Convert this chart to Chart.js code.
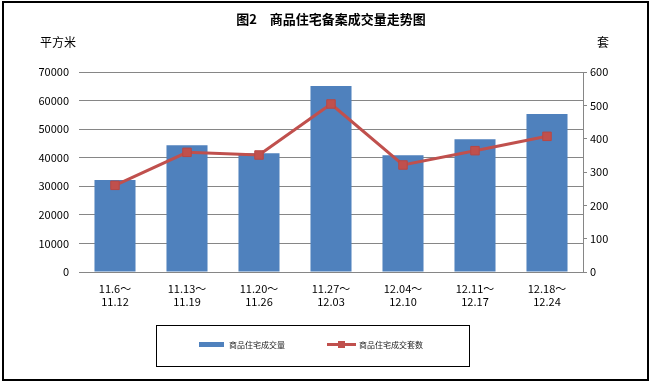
<!DOCTYPE html>
<html>
<head>
<meta charset="utf-8">
<script src="https://cdn.jsdelivr.net/npm/chart.js@4"></script>
<style>
  html, body { margin: 0; padding: 0; background: #fff; }
  canvas { display: block; }
</style>
</head>
<body>
<canvas id="chart" width="652" height="384"></canvas>
<script>
// week ranges
const weeks = [
  ['11.6～', '11.12'],
  ['11.13～', '11.19'],
  ['11.20～', '11.26'],
  ['11.27～', '12.03'],
  ['12.04～', '12.10'],
  ['12.11～', '12.17'],
  ['12.18～', '12.24']
];
// area sold (平方米)
const areaSold = [32200, 44400, 41600, 65100, 40900, 46500, 55300];
// units sold (套)
const unitsSold = [260, 359, 351, 504, 321, 364, 407];

const leftTicks = [0, 10000, 20000, 30000, 40000, 50000, 60000, 70000];
const rightTicks = [0, 100, 200, 300, 400, 500, 600];

const titleText = '图2　商品住宅备案成交量走势图';
const areaLabel = '商品住宅成交量';
const unitsLabel = '商品住宅成交套数';

const font = '"Noto Sans CJK SC", "DejaVu Sans", sans-serif';
const blue = '#4F81BD';
const red = '#C0504D';

// title, axis units, legend box and outer frame
const decorations = {
  id: 'decorations',
  afterDraw(chart) {
    const ctx = chart.ctx;
    ctx.save();
    ctx.fillStyle = '#000';
    ctx.font = 'bold 13px ' + font;
    ctx.textAlign = 'center';
    ctx.textBaseline = 'middle';
    ctx.fillText(titleText, 331, 19);

    ctx.font = '12px ' + font;
    ctx.textAlign = 'left';
    ctx.fillText('平方米', 40, 42);
    ctx.fillText('套', 597, 42);

    // legend
    ctx.strokeStyle = '#000';
    ctx.lineWidth = 1;
    ctx.strokeRect(156.5, 325.5, 313, 41);
    ctx.fillStyle = blue;
    ctx.fillRect(199, 342, 25, 5);
    ctx.strokeStyle = red;
    ctx.lineWidth = 3;
    ctx.beginPath();
    ctx.moveTo(327, 344.5);
    ctx.lineTo(356, 344.5);
    ctx.stroke();
    ctx.fillStyle = red;
    ctx.fillRect(338, 341, 7, 7);
    ctx.fillStyle = '#222';
    ctx.font = '8px ' + font;
    ctx.fillText(areaLabel, 229, 345);
    ctx.fillText(unitsLabel, 359, 345);

    // outer frame
    ctx.strokeStyle = '#000';
    ctx.lineWidth = 2;
    ctx.strokeRect(3, 2, 645, 378);
    ctx.restore();
  }
};

new Chart(document.getElementById('chart'), {
  type: 'bar',
  data: {
    labels: weeks,
    datasets: [
      {
        type: 'line',
        label: unitsLabel,
        data: unitsSold,
        yAxisID: 'y1',
        borderColor: red,
        backgroundColor: red,
        borderWidth: 3,
        pointStyle: 'rect',
        pointRadius: 6,
        pointBorderWidth: 1,
        pointBorderColor: '#B84744',
        tension: 0,
        order: 0
      },
      {
        label: areaLabel,
        data: areaSold,
        yAxisID: 'y',
        backgroundColor: blue,
        categoryPercentage: 1,
        barPercentage: 0.57,
        order: 1
      }
    ]
  },
  options: {
    responsive: false,
    devicePixelRatio: 1,
    animation: false,
    layout: { padding: { top: 72, left: 0, right: 0, bottom: 0 } },
    plugins: {
      legend: { display: false },
      tooltip: { enabled: false }
    },
    scales: {
      x: {
        afterFit: (s) => { s.height = 112; },
        grid: { display: false, drawTicks: false },
        border: { display: false },
        ticks: {
          color: '#000',
          font: { family: font, size: 11 },
          padding: 10,
          maxRotation: 0,
          autoSkip: false
        }
      },
      y: {
        position: 'left',
        min: 0,
        max: 70000,
        afterFit: (s) => { s.width = 79; },
        afterBuildTicks: (s) => { s.ticks = leftTicks.map((v) => ({ value: v })); },
        grid: { color: '#868686', lineWidth: 1, drawTicks: false },
        border: { display: false },
        ticks: {
          color: '#000',
          font: { family: font, size: 11 },
          padding: 10,
          callback: (v) => String(v)
        }
      },
      y1: {
        position: 'right',
        min: 0,
        max: 600,
        afterFit: (s) => { s.width = 69; },
        afterBuildTicks: (s) => { s.ticks = rightTicks.map((v) => ({ value: v })); },
        grid: { drawOnChartArea: false, color: '#868686', tickLength: 4 },
        border: { display: true, color: '#868686' },
        ticks: {
          color: '#000',
          font: { family: font, size: 11 },
          padding: 3,
          callback: (v) => String(v)
        }
      }
    }
  },
  plugins: [decorations]
});
</script>
</body>
</html>
